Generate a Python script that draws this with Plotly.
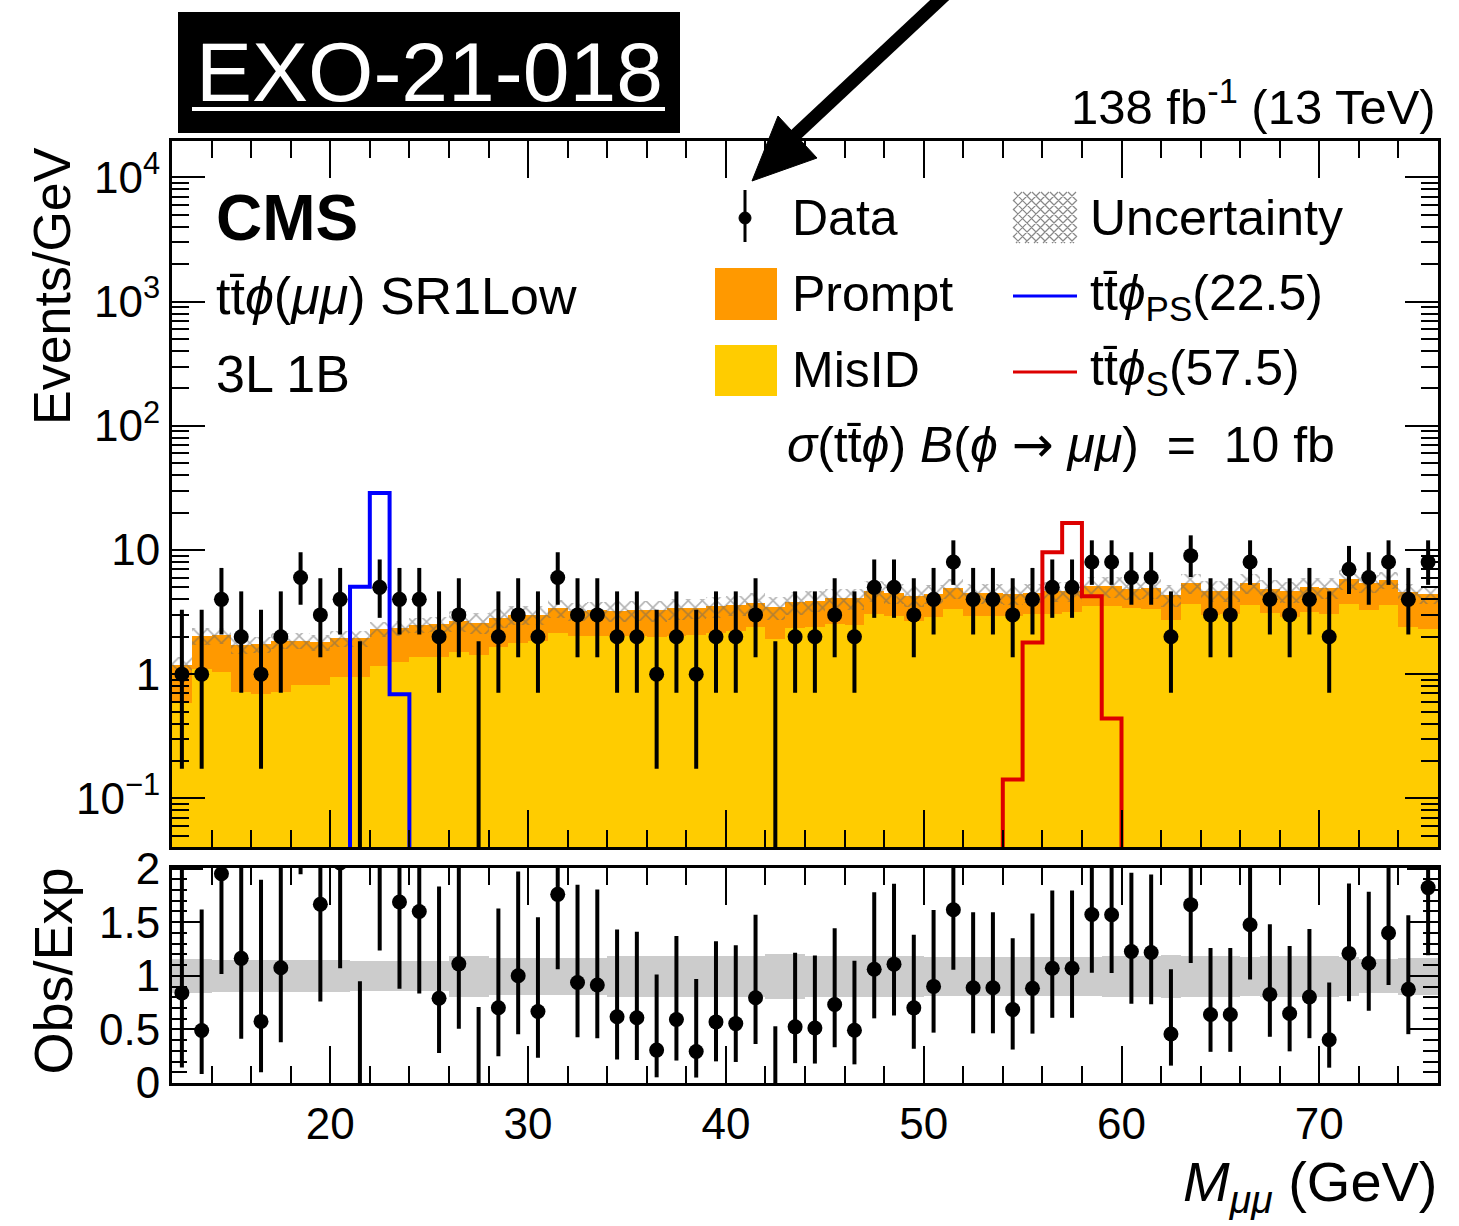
import plotly.graph_objects as go

# ---------------- data ----------------
bin_lo = list(range(12, 76))            # 1 GeV bins, 12..76 GeV
data_counts = [1, 1, 4, 2, 1, 2, 6, 3, 4, 0, 5, 4, 4, 2, 3, 0, 2, 3, 2, 6,
               3, 3, 2, 2, 1, 2, 1, 2, 2, 3, 0, 2, 2, 3, 2, 5, 5, 3, 4, 8,
               4, 4, 3, 4, 5, 5, 8, 8, 6, 6, 2, 9, 3, 3, 8, 4, 3, 4, 2, 7,
               6, 8, 4, 8]
misid = [0.59, 1.10, 1.04, 0.72, 0.69, 0.72, 0.82, 0.82, 0.95, 0.95,
         1.17, 1.25, 1.37, 1.37, 1.50, 1.42, 1.65, 1.78, 1.86, 2.14,
         2.03, 2.03, 2.03, 2.03, 1.99, 2.03, 2.05, 2.15, 2.23, 2.39,
         1.92, 2.35, 2.38, 2.53, 2.50, 3.05, 2.95, 2.69, 2.88, 3.34,
         2.95, 2.95, 2.92, 3.05, 3.05, 3.18, 3.51, 3.51, 3.40, 3.34,
         2.74, 3.67, 2.99, 3.05, 3.60, 3.10, 2.87, 3.14, 3.05, 3.67,
         3.30, 3.60, 2.38, 2.31]
prompt = [0.60, 0.94, 1.01, 1.00, 1.05, 1.14, 1.04, 0.98, 1.00, 0.99,
          1.13, 1.12, 1.13, 1.16, 1.20, 1.18, 1.20, 1.22, 1.14, 1.27,
          1.17, 1.25, 1.21, 1.26, 1.27, 1.35, 1.35, 1.36, 1.38, 1.38,
          1.56, 1.47, 1.52, 1.57, 1.57, 1.66, 1.56, 1.59, 1.56, 1.61,
          1.55, 1.55, 1.46, 1.48, 1.62, 1.49, 1.58, 1.59, 1.49, 1.59,
          1.63, 1.74, 1.71, 1.65, 1.82, 1.74, 1.76, 1.85, 1.90, 2.12,
          2.07, 2.12, 2.20, 2.08]
unc_rel = [0.16, 0.16, 0.15, 0.15, 0.15, 0.15, 0.15, 0.15, 0.15, 0.14,
           0.14, 0.14, 0.14, 0.14, 0.19, 0.19, 0.17, 0.17, 0.17, 0.17,
           0.17, 0.17, 0.19, 0.19, 0.19, 0.19, 0.19, 0.19, 0.19, 0.19,
           0.21, 0.21, 0.19, 0.19, 0.19, 0.19, 0.19, 0.19, 0.18, 0.18,
           0.18, 0.18, 0.18, 0.18, 0.18, 0.18, 0.18, 0.19, 0.19, 0.19,
           0.20, 0.19, 0.19, 0.19, 0.18, 0.19, 0.19, 0.19, 0.19, 0.18,
           0.16, 0.16, 0.17, 0.17]
sig_ps_bins = [21, 22, 23]
sig_ps_vals = [5.05, 28.7, 0.69]
sig_s_bins = [54, 55, 56, 57, 58, 59]
sig_s_vals = [0.142, 1.80, 9.6, 16.5, 4.23, 0.44]
# Garwood 68% Poisson intervals (lower, upper) for n observed events
poisson_int = {0: (0.0, 1.841), 1: (0.173, 3.300), 2: (0.708, 4.638),
               3: (1.367, 5.918), 4: (2.086, 7.163), 5: (2.840, 8.382),
               6: (3.620, 9.584), 7: (4.419, 10.77), 8: (5.232, 11.95),
               9: (6.057, 13.11)}
x_ticks = [20, 30, 40, 50, 60, 70]

# ---------------- derived ----------------
centers = [b + 0.5 for b in bin_lo]
total = [m + p for m, p in zip(misid, prompt)]
floor = 1e-4


def full_hist(bins, vals):
    h = [0.0] * len(bin_lo)
    for b, v in zip(bins, vals):
        h[bin_lo.index(b)] = v
    return h


def step(vals):
    xs = bin_lo + [bin_lo[-1] + 1]
    ys = [v if v > 0 else floor for v in vals] + [floor]
    return xs, ys


# ---------------- pixel helpers (for decorations) ----------------
L, R, T, B = 172, 1438, 141, 1083
def PX(x): return (x - L) / (R - L)
def PY(y): return (B - y) / (B - T)

FONT = "Liberation Sans, Arial, Helvetica, sans-serif"
ORANGE = "#ff9900"
YELLOW = "#ffcc00"
PHI = "\u03d5"
ARW = '<span style="font-family:DejaVu Sans">\u2192</span>'

fig = go.Figure()

# stacked backgrounds (drawn as total then misid on top)
fig.add_trace(go.Bar(x=centers, y=total, width=1, marker=dict(color=ORANGE, line=dict(width=0)),
                     xaxis="x", yaxis="y", showlegend=False))
fig.add_trace(go.Bar(x=centers, y=misid, width=1, marker=dict(color=YELLOW, line=dict(width=0)),
                     xaxis="x", yaxis="y", showlegend=False))
# hatched uncertainty
fig.add_trace(go.Bar(x=centers, y=[t * 2 * u for t, u in zip(total, unc_rel)],
                     base=[t * (1 - u) for t, u in zip(total, unc_rel)], width=1,
                     marker=dict(color="rgba(0,0,0,0)", line=dict(width=0),
                                 pattern=dict(shape="x", fgcolor="#666666", bgcolor="rgba(0,0,0,0)",
                                              size=10, solidity=0.3)),
                     xaxis="x", yaxis="y", showlegend=False))
# signals
xs, ys = step(full_hist(sig_ps_bins, sig_ps_vals))
fig.add_trace(go.Scatter(x=xs, y=ys, mode="lines", line=dict(color="#0000ff", width=4, shape="hv"),
                         xaxis="x", yaxis="y", showlegend=False))
xs, ys = step(full_hist(sig_s_bins, sig_s_vals))
fig.add_trace(go.Scatter(x=xs, y=ys, mode="lines", line=dict(color="#dd0000", width=4, shape="hv"),
                         xaxis="x", yaxis="y", showlegend=False))

# data error bars (top)
ex, ey = [], []
rx, ry = [], []
for c, n, t in zip(centers, data_counts, total):
    lo, hi = poisson_int[n]
    ex += [c, c, None]
    ey += [lo if lo > 0 else floor, hi, None]
    rx += [c, c, None]
    ry += [lo / t, hi / t, None]
fig.add_trace(go.Scatter(x=ex, y=ey, mode="lines", line=dict(color="black", width=4),
                         xaxis="x", yaxis="y", showlegend=False))
mx = [c for c, n in zip(centers, data_counts) if n > 0]
my = [n for n in data_counts if n > 0]
fig.add_trace(go.Scatter(x=mx, y=my, mode="markers", marker=dict(color="black", size=15),
                         xaxis="x", yaxis="y", showlegend=False))

# ratio panel
fig.add_trace(go.Bar(x=centers, y=[2 * u for u in unc_rel], base=[1 - u for u in unc_rel], width=1,
                     marker=dict(color="#cccccc", line=dict(width=0)),
                     xaxis="x2", yaxis="y2", showlegend=False))
fig.add_trace(go.Scatter(x=rx, y=ry, mode="lines", line=dict(color="black", width=4),
                         xaxis="x2", yaxis="y2", showlegend=False))
rmy = [n / t for n, t in zip(data_counts, total) if n > 0]
fig.add_trace(go.Scatter(x=mx, y=rmy, mode="markers", marker=dict(color="black", size=15),
                         xaxis="x2", yaxis="y2", showlegend=False))

# ---------------- axes ----------------
x_minor = [v for v in range(14, 76, 2) if v % 10 != 0]
ax_common = dict(range=[12, 76], showgrid=False, zeroline=False, showline=True, linewidth=3,
                 linecolor="black", mirror="allticks", ticks="inside", ticklen=37, tickwidth=2,
                 tickcolor="black", tickmode="array", tickvals=x_ticks,
                 minor=dict(tickmode="array", tickvals=x_minor, ticks="inside", ticklen=17,
                            tickwidth=2, tickcolor="black", showgrid=False),
                 tickfont=dict(family=FONT, size=44, color="black"))
log_minor = [k * 10 ** e for e in range(-2, 5) for k in range(2, 10)]
fig.update_layout(
    width=1459, height=1226,
    margin=dict(l=L, r=1459 - R, t=T, b=1226 - B),
    paper_bgcolor="white", plot_bgcolor="white",
    barmode="overlay", bargap=0,
    showlegend=False,
    font=dict(family=FONT, color="black"),
    xaxis=dict(ax_common, anchor="y", domain=[0, 1], showticklabels=False),
    yaxis=dict(type="log", domain=[PY(847), 1], range=[-1.392, 4.293],
               showgrid=False, zeroline=False, showline=True, linewidth=3, linecolor="black",
               mirror="allticks", ticks="inside", ticklen=33, tickwidth=2, tickcolor="black",
               tickmode="array", tickvals=[0.1, 1, 10, 100, 1000, 10000],
               ticktext=["10<sup>−1</sup>", "1", "10", "10<sup>2</sup>", "10<sup>3</sup>", "10<sup>4</sup>"],
               minor=dict(tickmode="array", tickvals=log_minor, ticks="inside", ticklen=17,
                          tickwidth=2, tickcolor="black", showgrid=False),
               tickfont=dict(family=FONT, size=44, color="black"), anchor="x"),
    xaxis2=dict(ax_common, anchor="y2", domain=[0, 1],
                ticktext=[str(v) for v in x_ticks], showticklabels=True),
    yaxis2=dict(domain=[0, PY(867.5)], range=[0, 2.01], anchor="x2",
                showgrid=False, zeroline=False, showline=True, linewidth=3, linecolor="black",
                mirror="allticks", ticks="inside", ticklen=31, tickwidth=2, tickcolor="black",
                tickmode="array", tickvals=[0, 0.5, 1, 1.5, 2], ticktext=["0", "0.5", "1", "1.5", "2"],
                minor=dict(tickmode="array", tickvals=[i / 10 for i in range(1, 20) if i % 5 != 0],
                           ticks="inside", ticklen=15, tickwidth=2, tickcolor="black", showgrid=False),
                tickfont=dict(family=FONT, size=44, color="black")),
)

# ---------------- decorations ----------------
shapes = []
ann = []


def text(x, y, s, size, xanchor="left", yanchor="middle", color="black", angle=0):
    ann.append(dict(x=PX(x), y=PY(y), xref="paper", yref="paper", text=s, showarrow=False,
                    xanchor=xanchor, yanchor=yanchor, textangle=angle,
                    font=dict(family=FONT, size=size, color=color)))


def rect(x0, y0, x1, y1, color):
    shapes.append(dict(type="rect", xref="paper", yref="paper", x0=PX(x0), x1=PX(x1),
                       y0=PY(y1), y1=PY(y0), fillcolor=color, line=dict(width=0), layer="above"))


def seg(x0, y0, x1, y1, color, w):
    shapes.append(dict(type="line", xref="paper", yref="paper", x0=PX(x0), y0=PY(y0),
                       x1=PX(x1), y1=PY(y1), line=dict(color=color, width=w), layer="above"))


# EXO box
rect(178, 12, 680, 133, "black")
text(429, 72, "EXO-21-018", 84, xanchor="center", color="white")
seg(192, 109, 665, 109, "white", 4)

# arrow
seg(945, -5, 790, 140, "black", 13)
shapes.append(dict(type="path", xref="paper", yref="paper",
                   path=f"M{PX(752)},{PY(181)} L{PX(817)},{PY(158)} L{PX(778)},{PY(116)} Z",
                   fillcolor="black", line=dict(color="black", width=1), layer="above"))

# luminosity
text(1438, 103, "138 fb<sup>-1</sup> (13 TeV)", 49, xanchor="right")

# CMS label
text(214, 218, "<b>CMS</b>", 64)
text(214, 296, f"tt\u0304<i>{PHI}</i>(<i>μμ</i>) SR1Low", 52)
text(214, 374, "3L 1B", 52)

# axis titles
text(52, 145, "Events/GeV", 52, xanchor="center", yanchor="top", angle=-90)
text(52, 866, "Obs/Exp", 54, xanchor="center", yanchor="top", angle=-90)
text(1440, 1185, "<i>M</i><sub><i>μμ</i></sub> (GeV)", 56, xanchor="right")

# legend
seg(745, 190, 745, 242, "black", 3)
shapes.append(dict(type="circle", xref="paper", yref="paper", x0=PX(739), x1=PX(751),
                   y0=PY(224), y1=PY(212), fillcolor="black", line=dict(color="black", width=1),
                   layer="above"))
text(790, 218, "Data", 50)
rect(715, 268, 777, 320, ORANGE)
text(790, 294, "Prompt", 50)
rect(715, 345, 777, 396, YELLOW)
text(790, 370, "MisID", 50)


def hatch(x0, y0, x1, y1, stp):
    w, h = x1 - x0, y1 - y0
    segs = []
    for c in range(-w, h + 1, stp):
        xa, xb = max(x0, x0 - c), min(x1, x0 + h - c)
        if xa < xb:
            segs.append(((xa, y0 + (xa - x0) + c), (xb, y0 + (xb - x0) + c)))
    for c in range(0, w + h + 1, stp):
        xa, xb = max(x0, x0 + c - h), min(x1, x0 + c)
        if xa < xb:
            segs.append(((xa, y0 + c - (xa - x0)), (xb, y0 + c - (xb - x0))))
    return " ".join(f"M{PX(a[0])},{PY(a[1])} L{PX(b[0])},{PY(b[1])}" for a, b in segs)


shapes.append(dict(type="path", xref="paper", yref="paper", path=hatch(1013, 192, 1077, 243, 9),
                   line=dict(color="#888888", width=1.2), layer="above"))
text(1088, 218, "Uncertainty", 50)
seg(1013, 296, 1077, 296, "#0000ff", 3)
text(1088, 296, f"tt\u0304<i>{PHI}</i><sub>PS</sub>(22.5)", 50)
seg(1013, 372, 1077, 372, "#dd0000", 3)
text(1088, 372, f"tt\u0304<i>{PHI}</i><sub>S</sub>(57.5)", 50)
text(785, 445, f"<i>σ</i>(tt\u0304<i>{PHI}</i>) <i>B</i>(<i>{PHI}</i> {ARW} <i>μμ</i>)  =  10 fb", 50)

fig.update_layout(shapes=shapes, annotations=ann)
fig.write_html("out.html", config={"displayModeBar": False},
               post_script="document.body.style.margin='0';document.body.style.padding='0';")
